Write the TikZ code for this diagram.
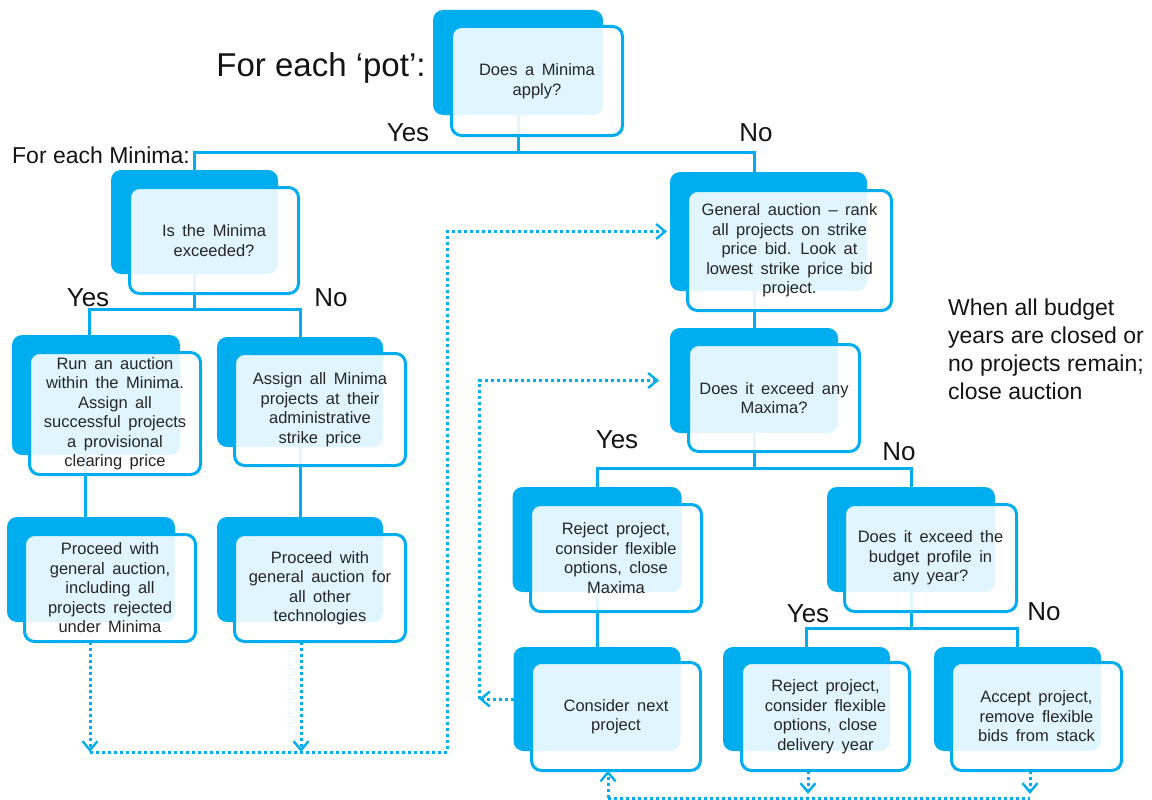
\documentclass[tikz,border=0pt]{standalone}
\usepackage{fontspec}
\setmainfont{Liberation Sans}
\usetikzlibrary{arrows.meta}
\definecolor{cblue}{RGB}{0,174,239}
\definecolor{ctext}{RGB}{38,38,38}
\definecolor{clabel}{RGB}{20,20,20}
\newcommand\boxfnt{\fontsize{16.5}{19.5}\selectfont\setlength{\spaceskip}{7.5pt plus 1pt minus 1pt}}
\begin{document}
\begin{tikzpicture}[x=1pt,y=-1pt,
  back/.style={fill=cblue, rounded corners=10pt, inner sep=0pt, outer sep=0pt},
  front/.style={draw=cblue, line width=3pt, fill=white, fill opacity=0.88, text opacity=1,
    rounded corners=10pt, inner sep=0pt, outer sep=0pt, align=center,
    font=\boxfnt, text=ctext},
  conn/.style={draw=cblue, line width=3pt},
  dotl/.style={draw=cblue, line width=3pt, dash pattern=on 3pt off 3pt},
  dtip/.style={-{Straight Barb[length=9pt,width=15pt,line width=2.4pt]}},
  lab/.style={font=\fontsize{26}{30}\selectfont, text=clabel, inner sep=0pt}
]
\useasboundingbox[fill=white] (0,0) rectangle (1152,800);

% back boxes
\node[back, minimum width=170pt, minimum height=105pt] (b1) at (518,62.5) {};
\node[back, minimum width=167pt, minimum height=104pt] (b2) at (194.5,222) {};
\node[back, minimum width=168pt, minimum height=120pt] (b3) at (96,395) {};
\node[back, minimum width=166pt, minimum height=110pt] (b4) at (300,392) {};
\node[back, minimum width=168pt, minimum height=105pt] (b5) at (91,569.5) {};
\node[back, minimum width=166pt, minimum height=105pt] (b6) at (300,569.5) {};
\node[back, minimum width=197pt, minimum height=119pt] (b7) at (768.5,231.5) {};
\node[back, minimum width=168pt, minimum height=105pt] (b8) at (754,380.5) {};
\node[back, minimum width=169pt, minimum height=105pt] (b9) at (597,539.5) {};
\node[back, minimum width=168pt, minimum height=105pt] (b10) at (911,539.5) {};
\node[back, minimum width=167pt, minimum height=104pt] (b11) at (597,699) {};
\node[back, minimum width=167pt, minimum height=104pt] (b12) at (806.5,699) {};
\node[back, minimum width=167pt, minimum height=104pt] (b13) at (1017.5,699) {};

% connectors
\coordinate (j1) at (518,152);
\coordinate (xga) at (754,0);
\coordinate (j2) at (194.5,309);
\coordinate (x3) at (89,0);
\coordinate (x5) at (85,0);
\coordinate (j3) at (754,468);
\coordinate (j4) at (911,628);
\draw[conn] (b1.south) -- (j1);
\draw[conn] (b2.north) |- (j1);
\draw[conn] (j1) -| (b7.north -| xga);
\draw[conn] (b2.south) -- (j2);
\draw[conn] (j2) -| (b3.north -| x3);
\draw[conn] (j2) -| (b4.north);
\draw[conn] (b3.south -| x5) -- (b5.north -| x5);
\draw[conn] (b4.south) -- (b6.north);
\draw[conn] (b7.south -| xga) -- (b8.north);
\draw[conn] (b8.south) -- (j3);
\draw[conn] (j3) -| (b9.north);
\draw[conn] (j3) -| (b10.north);
\draw[conn] (b9.south) -- (b11.north);
\draw[conn] (b10.south) -- (j4);
\draw[conn] (j4) -| (b12.north);
\draw[conn] (j4) -| (b13.north);

% front boxes
\node[front, minimum width=171pt, minimum height=109pt] (f1) at (537,81) {Does a Minima\\apply?};
\node[front, minimum width=169pt, minimum height=106pt] (f2) at (214,240.5) {Is the Minima\\exceeded?};
\node[front, minimum width=171pt, minimum height=122pt] (f3) at (115,413.5) {Run an auction\\within the Minima.\\Assign all\\successful projects\\a provisional\\clearing price};
\node[front, minimum width=171pt, minimum height=112pt] (f4) at (320,409.5) {Assign all Minima\\projects at their\\administrative\\strike price};
\node[front, minimum width=171pt, minimum height=107pt] (f5) at (110,588) {Proceed with\\general auction,\\including all\\projects rejected\\under Minima};
\node[front, minimum width=171pt, minimum height=107pt] (f6) at (320,588) {Proceed with\\general auction for\\all other\\technologies};
\node[front, minimum width=204pt, minimum height=120pt] (f7) at (789.5,250.5) {General auction – rank\\all projects on strike\\price bid. Look at\\lowest strike price bid\\project.};
\node[front, minimum width=171pt, minimum height=107pt] (f8) at (774,398) {Does it exceed any\\Maxima?};
\node[front, minimum width=171pt, minimum height=107pt] (f9) at (616,558) {Reject project,\\consider flexible\\options, close\\Maxima};
\node[front, minimum width=172pt, minimum height=107pt] (f10) at (930.5,558) {Does it exceed the\\budget profile in\\any year?};
\node[front, minimum width=169pt, minimum height=108pt] (f11) at (616,716.5) {Consider next\\project};
\node[front, minimum width=168pt, minimum height=108pt] (f12) at (825.5,716.5) {Reject project,\\consider flexible\\options, close\\delivery year};
\node[front, minimum width=170pt, minimum height=108pt] (f13) at (1036.5,716.5) {Accept project,\\remove flexible\\bids from stack};

% dotted feedback connectors
\coordinate (d1) at (90,752);
\coordinate (d2) at (301,752);
\coordinate (d3) at (447,752);
\draw[dotl, dtip] (f5.south -| d1) -- (d1);
\draw[dotl, dtip] (f6.south -| d2) -- (d2);
\draw[dotl, dtip, shorten >=3pt] (d1) -- (d3) |- (b7.west);

\coordinate (d4) at (479,0);
\draw[dotl, dtip] (b11.west) -- (b11.west -| d4);
\draw[dotl, dtip, shorten >=11pt] (b11.west -| d4) |- (b8.west);

\coordinate (d5) at (608,798);
\coordinate (d6) at (808,798);
\coordinate (d7) at (1030,798);
\draw[dotl] (d5) -- (d7);
\draw[dotl, dtip] (d5) -- (f11.south -| d5);
\draw[dotl, dtip, shorten >=4pt] (f12.south -| d6) -- (d6);
\draw[dotl, dtip, shorten >=4pt] (f13.south -| d7) -- (d7);

% labels
\node[text=clabel, font=\fontsize{33}{38}\selectfont, inner sep=0pt] (pot) at (321,68) {For each ‘pot’:};
\node[text=clabel, font=\fontsize{23}{27}\selectfont, inner sep=0pt] (forMin) at (101,155) {For each Minima:};
\node[lab] (yes1) at (408,133) {Yes};
\node[lab] (no1) at (756,133) {No};
\node[lab] (yes2) at (88,298) {Yes};
\node[lab] (no2) at (331,298) {No};
\node[lab] (yes3) at (617,440) {Yes};
\node[lab] (no3) at (899,452) {No};
\node[lab] (yes4) at (808,614) {Yes};
\node[lab] (no4) at (1044,612) {No};
\node[text=clabel, font=\fontsize{23}{28}\selectfont, inner sep=0pt, align=left, anchor=west] (close) at (948,349) {When all budget\\years are closed or\\no projects remain;\\close auction};
\end{tikzpicture}
\end{document}
